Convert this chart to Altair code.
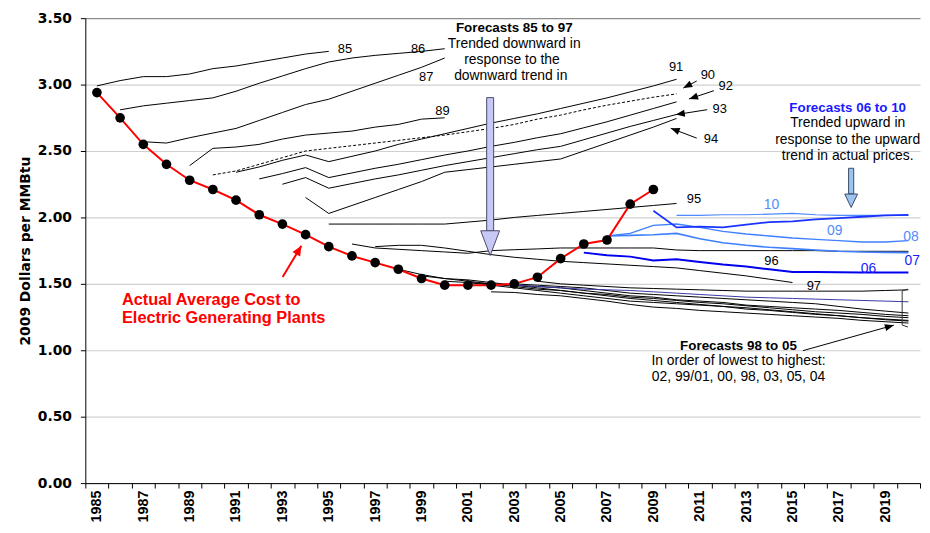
import math
import altair as alt
import pandas as pd

# ---------------- data ----------------
actual_start = 1985
actual = [2.94, 2.75, 2.55, 2.40, 2.28, 2.21, 2.13, 2.02, 1.95, 1.87, 1.78, 1.71, 1.66,
          1.61, 1.54, 1.49, 1.49, 1.49, 1.50, 1.55, 1.69, 1.80, 1.83, 2.10, 2.21]

f85 = [2.99, 3.03, 3.06, 3.06, 3.08, 3.12, 3.14, 3.17, 3.20, 3.23, 3.25]
f86 = [2.81, 2.84, 2.86, 2.88, 2.90, 2.95, 3.01, 3.065, 3.12, 3.17, 3.20, 3.22, 3.235, 3.25, 3.27]
f87 = [2.57, 2.56, 2.60, 2.635, 2.67, 2.73, 2.79, 2.85, 2.89, 2.95, 3.01, 3.07, 3.13, 3.20]
f89 = [2.39, 2.52, 2.53, 2.55, 2.59, 2.62, 2.635, 2.65, 2.68, 2.70, 2.74, 2.75]
f90 = [2.32, 2.35, 2.40, 2.45, 2.50, 2.52, 2.54, 2.56, 2.58, 2.60, 2.62, 2.645, 2.67,
       2.70, 2.74, 2.77, 2.81, 2.845, 2.875, 2.905, 2.93]
f91 = [2.34, 2.38, 2.43, 2.47, 2.42, 2.46, 2.50, 2.55, 2.59, 2.63, 2.67, 2.71, 2.745,
       2.78, 2.82, 2.86, 2.90, 2.945, 2.99, 3.04]
f92 = [2.29, 2.33, 2.375, 2.30, 2.335, 2.37, 2.40, 2.435, 2.47, 2.50, 2.535, 2.565,
       2.60, 2.63, 2.675, 2.72, 2.77, 2.82, 2.87]
f93 = [2.25, 2.30, 2.22, 2.255, 2.29, 2.32, 2.355, 2.39, 2.42, 2.45, 2.48, 2.51, 2.535,
       2.585, 2.635, 2.685, 2.73, 2.775]
f94 = [2.15, 2.03, 2.09, 2.15, 2.21, 2.27, 2.34, 2.36, 2.38, 2.40, 2.42, 2.44, 2.50,
       2.56, 2.62, 2.68, 2.745]
f95 = [1.95, 1.95, 1.95, 1.95, 1.95, 1.95, 1.965, 1.98, 2.00, 2.015, 2.03, 2.045, 2.06,
       2.075, 2.09, 2.105]
f96 = [1.80, 1.77, 1.76, 1.75, 1.74, 1.73, 1.75, 1.757, 1.763, 1.77, 1.77, 1.77, 1.77,
       1.77, 1.755, 1.75, 1.75, 1.75, 1.75, 1.75, 1.75, 1.745, 1.745, 1.745, 1.745]
f97 = [1.78, 1.79, 1.79, 1.77, 1.745, 1.72, 1.70, 1.685, 1.67, 1.66, 1.65, 1.64, 1.63,
       1.62, 1.60, 1.58, 1.56, 1.535, 1.51]
f98 = [1.61, 1.57, 1.54, 1.52, 1.50, 1.49, 1.48, 1.47, 1.45, 1.43, 1.41, 1.40, 1.38,
       1.37, 1.36, 1.34, 1.33, 1.32, 1.31, 1.30, 1.285, 1.27, 1.26]
f99 = [1.56, 1.54, 1.53, 1.51, 1.49, 1.47, 1.45, 1.43, 1.41, 1.39, 1.375, 1.36, 1.345,
       1.33, 1.31, 1.30, 1.285, 1.27, 1.26, 1.245, 1.235, 1.225]
f00 = [1.52, 1.51, 1.50, 1.48, 1.46, 1.45, 1.43, 1.42, 1.40, 1.39, 1.375, 1.36, 1.35,
       1.335, 1.32, 1.305, 1.29, 1.28, 1.27, 1.255, 1.245]
f01 = [1.51, 1.49, 1.47, 1.45, 1.43, 1.41, 1.39, 1.37, 1.36, 1.35, 1.34, 1.33, 1.32,
       1.305, 1.29, 1.275, 1.26, 1.245, 1.23, 1.22]
f02 = [1.44, 1.435, 1.42, 1.41, 1.39, 1.37, 1.345, 1.325, 1.315, 1.30, 1.29, 1.28, 1.27,
       1.26, 1.25, 1.24, 1.225, 1.215, 1.205]
f03 = [1.50, 1.49, 1.48, 1.47, 1.45, 1.43, 1.42, 1.41, 1.40, 1.39, 1.38, 1.37, 1.36,
       1.35, 1.33, 1.31, 1.295, 1.28]
f04 = [1.52, 1.50, 1.49, 1.48, 1.47, 1.465, 1.46, 1.455, 1.45, 1.445, 1.445, 1.445,
       1.445, 1.445, 1.445, 1.45, 1.455]
f05 = [1.49, 1.48, 1.47, 1.46, 1.455, 1.45, 1.44, 1.43, 1.42, 1.41, 1.40, 1.395, 1.39,
       1.385, 1.38, 1.375, 1.37, 1.365]
f06 = [1.735, 1.715, 1.705, 1.675, 1.685, 1.665, 1.645, 1.63, 1.61, 1.59, 1.59, 1.588,
       1.585, 1.585, 1.585]
f07 = [2.05, 1.925, 1.93, 1.925, 1.945, 1.965, 1.97, 1.985, 1.995, 2.005, 2.015, 2.02]
f08 = [1.86, 1.865, 1.87, 1.88, 1.84, 1.81, 1.79, 1.775, 1.765, 1.755, 1.745, 1.74,
       1.737, 1.735]
f09 = [1.86, 1.88, 1.94, 1.95, 1.925, 1.895, 1.875, 1.86, 1.845, 1.835, 1.825, 1.815,
       1.815, 1.825]
f10 = [2.015, 2.015, 2.02, 2.02, 2.025, 2.03, 2.02, 2.015, 2.015, 2.015, 2.015]

# forecast name -> (first year, values)
black_forecasts = {"85": (1985, f85), "86": (1986, f86), "87": (1987, f87), "89": (1989, f89),
                   "91": (1991, f91), "92": (1992, f92), "93": (1993, f93), "94": (1994, f94),
                   "95": (1995, f95), "96": (1996, f96), "97": (1997, f97),
                   "98": (1998, f98), "99": (1999, f99), "00": (2000, f00), "01": (2001, f01),
                   "02": (2002, f02), "03": (2003, f03), "04": (2004, f04)}
dashed_forecasts = {"90": (1990, f90)}
blue_forecasts = {"05": (2003, f05), "10": (2010, f10), "09": (2007, f09), "08": (2007, f08),
                  "07": (2009, f07), "06": (2006, f06)}
blue_colors = ["#3838a8", "#4d88ff", "#3f7fff", "#3f7fff", "#1a33ff", "#0000ee"]
blue_widths = [1.0, 2.0, 2.0, 2.0, 2.2, 2.6]

# text annotations (data coordinates: year, $/MMBtu)
num_labels = ["85", "86", "87", "89", "91", "90", "92", "93", "94", "95", "96", "97"]
num_x = [1995.7, 1998.85, 1999.2, 1999.9, 2009.98, 2011.35, 2012.12, 2011.86, 2011.48,
         2010.75, 2014.09, 2015.92]
num_y = [3.27, 3.27, 3.057, 2.80, 3.13, 3.07, 2.99, 2.813, 2.592, 2.141, 1.669, 1.484]

blue_labels = ["10", "09", "08", "07", "06"]
blue_lab_x = [2014.09, 2016.82, 2020.11, 2020.16, 2018.28]
blue_lab_y = [2.09, 1.898, 1.853, 1.669, 1.61]
blue_lab_col = ["#4f8cff", "#4f8cff", "#4f8cff", "#1a1aff", "#1a1aff"]

head_texts = ["Forecasts  85  to  97", "Forecasts  06  to  10", "Forecasts  98  to  05"]
head_x = [2003.0, 2017.38, 2012.67]
head_y = [3.426, 2.821, 1.034]
head_col = ["black", "#1a1aff", "black"]

body_texts = ["Trended downward in", "response to the", "downward trend in",
              "Trended upward in", "response to the upward", "trend in actual prices.",
              "In order of lowest to highest:", "02, 99/01, 00, 98, 03, 05, 04"]
body_x = [2003.0, 2002.9, 2002.85, 2017.38, 2017.38, 2017.38, 2012.67, 2012.67]
body_y = [3.308, 3.183, 3.064, 2.71, 2.584, 2.459, 0.916, 0.798]

red_texts = ["Actual Average Cost to", "Electric Generating Plants"]
red_x = [1986.08, 1986.08]
red_y = [1.381, 1.24]

# black pointer arrows: tail -> tip
arrow_x0 = [2010.87, 2011.61, 2011.32, 2010.87, 2015.45]
arrow_y0 = [3.027, 2.954, 2.811, 2.597, 0.997]
arrow_x1 = [2010.29, 2010.54, 2009.97, 2009.75, 2019.37]
arrow_y1 = [2.974, 2.892, 2.774, 2.671, 1.189]

red_arrow = [1993.01, 1.551, 1993.82, 1.787]

# big arrows: shaft (x0,x1,y0,y1) and tip
lav_shaft = [2001.81, 2002.11, 1.898, 2.902]
lav_tip = [2001.96, 1.713]
blu_shaft = [2017.42, 2017.64, 2.178, 2.37]
blu_tip = [2017.53, 2.075]

bracket_x = [2019.98, 2019.73, 2019.73, 2019.98]
bracket_y = [1.46, 1.447, 1.19, 1.175]

# ---------------- chart ----------------
W, H = 842, 469
PXX = W / 36.0
PXY = H / 3.5
FONT = "Liberation Sans"
AXFONT = "DejaVu Sans"


def to_df(d):
    rows = []
    for name, (start, vals) in d.items():
        for i, v in enumerate(vals):
            rows.append({"year": start + i, "value": v, "series": name})
    return pd.DataFrame(rows)


XS = alt.Scale(domain=[1984.5, 2020.5], nice=False, zero=False)
YS = alt.Scale(domain=[0, 3.5], nice=False, zero=False)

# ticks on year boundaries; labels (odd years) shifted half a year to the band centre
xvals = [1984.5 + i for i in range(37)]
XAXIS = alt.Axis(values=xvals, title=None, grid=False, labelAngle=270, labelAlign="right",
                 labelBaseline="middle", labelPadding=2, labelOffset=PXX / 2,
                 labelFont=FONT, labelFontWeight="bold", labelFontSize=14.5,
                 labelColor="black", tickColor="black", tickSize=5, domainColor="black",
                 labelOverlap=False, labelFlush=False, labelBound=False,
                 labelExpr="((datum.value + 0.5) % 2 === 1 && datum.value < 2020) ? "
                           "'' + (datum.value + 0.5) : ''")
YAXIS = alt.Axis(values=[0, 0.5, 1.0, 1.5, 2.0, 2.5, 3.0, 3.5], format=".2f",
                 title="2009 Dollars  per MMBtu", titleFont=AXFONT, titleFontWeight="bold",
                 titleFontSize=14, titleColor="black", titleAngle=270, titleX=-53,
                 titleY=H / 2, titleAlign="center", titleBaseline="bottom",
                 labelFont=AXFONT, labelFontWeight="bold", labelFontSize=14,
                 labelColor="black", labelPadding=9, tickSize=5, tickColor="black",
                 domainColor="black", grid=True, gridWidth=1.2,
                 gridColor={"condition": {"test": "datum.value > 3.49", "value": "#8c8c8c"},
                            "value": "#d0d0d0"})


def X(f="year"):
    return alt.X(f"{f}:Q", scale=XS, axis=XAXIS)


def Y(f="value"):
    return alt.Y(f"{f}:Q", scale=YS, axis=YAXIS)


black_df = to_df(black_forecasts)
lines_black = alt.Chart(black_df).mark_line(color="black", strokeWidth=1).encode(
    x=X(), y=Y(), detail="series:N")

lines_dash = alt.Chart(to_df(dashed_forecasts)).mark_line(
    color="black", strokeWidth=1, strokeDash=[3, 2]).encode(x=X(), y=Y(), detail="series:N")

blue_df = to_df(blue_forecasts)
blue_names = list(blue_forecasts.keys())
lines_blue = alt.Chart(blue_df).mark_line().encode(
    x=X(), y=Y(), detail="series:N",
    color=alt.Color("series:N", scale=alt.Scale(domain=blue_names, range=blue_colors),
                    legend=None),
    strokeWidth=alt.StrokeWidth("series:N",
                                scale=alt.Scale(domain=blue_names, range=blue_widths),
                                legend=None),
    order=alt.Order("year:Q"))

act_df = pd.DataFrame({"year": [actual_start + i for i in range(len(actual))], "value": actual})
act_line = alt.Chart(act_df).mark_line(color="#ff0000", strokeWidth=2).encode(x=X(), y=Y())
act_pts = alt.Chart(act_df).mark_point(filled=True, color="black", size=95, opacity=1).encode(
    x=X(), y=Y())

# bracket
br_df = pd.DataFrame({"year": bracket_x, "value": bracket_y, "i": range(4)})
bracket = alt.Chart(br_df).mark_line(color="#333333", strokeWidth=1).encode(
    x=X(), y=Y(), order="i:Q")

# pointer arrows
ar_df = pd.DataFrame({"x0": arrow_x0, "y0": arrow_y0, "x1": arrow_x1, "y1": arrow_y1})
ar_df["ang"] = [math.degrees(math.atan2((b - a) * PXX, (d - c) * PXY)) % 360
                for a, b, c, d in zip(arrow_x0, arrow_x1, arrow_y0, arrow_y1)]
arrow_lines = alt.Chart(ar_df).mark_rule(color="black", strokeWidth=1).encode(
    x=X("x0"), y=Y("y0"), x2="x1:Q", y2="y1:Q")
arrow_heads = alt.Chart(ar_df).mark_point(
    shape="M0,0L-0.4,1L0.4,1Z", filled=True, color="black", size=324, opacity=1).encode(
    x=X("x1"), y=Y("y1"), angle=alt.Angle("ang:Q", scale=None))

ra = red_arrow
red_df = pd.DataFrame({"x0": [ra[0]], "y0": [ra[1]], "x1": [ra[2]], "y1": [ra[3]],
                       "ang": [math.degrees(math.atan2((ra[2] - ra[0]) * PXX,
                                                       (ra[3] - ra[1]) * PXY)) % 360]})
red_line = alt.Chart(red_df).mark_rule(color="#ff0000", strokeWidth=2).encode(
    x=X("x0"), y=Y("y0"), x2="x1:Q", y2="y1:Q")
red_head = alt.Chart(red_df).mark_point(
    shape="M0,0L-0.45,1L0.45,1Z", filled=True, color="#ff0000", size=400, opacity=1).encode(
    x=X("x1"), y=Y("y1"), angle=alt.Angle("ang:Q", scale=None))

# big arrows
lav_df = pd.DataFrame({"x0": [lav_shaft[0]], "x1": [lav_shaft[1]], "y0": [lav_shaft[2]],
                       "y1": [lav_shaft[3]], "tx": [lav_tip[0]], "ty": [lav_tip[1]]})
lav_rect = alt.Chart(lav_df).mark_rect(fill="#c8c8f6", stroke="#4a4a66", strokeWidth=1).encode(
    x=X("x0"), x2="x1:Q", y=Y("y0"), y2="y1:Q")
lav_head = alt.Chart(lav_df).mark_point(
    shape="M0,0L-0.38,1L0.38,1Z", filled=True, fill="#c8c8f6", stroke="#4a4a66",
    strokeWidth=1, size=2500, opacity=1, angle=180).encode(x=X("tx"), y=Y("ty"))

blu_df = pd.DataFrame({"x0": [blu_shaft[0]], "x1": [blu_shaft[1]], "y0": [blu_shaft[2]],
                       "y1": [blu_shaft[3]], "tx": [blu_tip[0]], "ty": [blu_tip[1]]})
blu_rect = alt.Chart(blu_df).mark_rect(fill="#9cc4ee", stroke="#3a4a66", strokeWidth=1).encode(
    x=X("x0"), x2="x1:Q", y=Y("y0"), y2="y1:Q")
blu_head = alt.Chart(blu_df).mark_point(
    shape="M0,0L-0.48,1L0.48,1Z", filled=True, fill="#9cc4ee", stroke="#3a4a66",
    strokeWidth=1, size=730, opacity=1, angle=180).encode(x=X("tx"), y=Y("ty"))

# texts
num_df = pd.DataFrame({"x": num_x, "y": num_y, "t": num_labels})
num_text = alt.Chart(num_df).mark_text(font=FONT, fontSize=13, color="black").encode(
    x=X("x"), y=Y("y"), text="t:N")

bl_df = pd.DataFrame({"x": blue_lab_x, "y": blue_lab_y, "t": blue_labels, "c": blue_lab_col})
bl_text = alt.Chart(bl_df).mark_text(font=FONT, fontSize=14).encode(
    x=X("x"), y=Y("y"), text="t:N", color=alt.Color("c:N", scale=None))

hd_df = pd.DataFrame({"x": head_x, "y": head_y, "t": head_texts, "c": head_col})
hd_text = alt.Chart(hd_df).mark_text(font=FONT, fontSize=13.5, fontWeight="bold").encode(
    x=X("x"), y=Y("y"), text="t:N", color=alt.Color("c:N", scale=None))

bd_df = pd.DataFrame({"x": body_x, "y": body_y, "t": body_texts})
bd_text = alt.Chart(bd_df).mark_text(font=FONT, fontSize=14, color="black").encode(
    x=X("x"), y=Y("y"), text="t:N")

rd_df = pd.DataFrame({"x": red_x, "y": red_y, "t": red_texts})
rd_text = alt.Chart(rd_df).mark_text(font=FONT, fontSize=16.5, fontWeight="bold",
                                     color="#ff0000", align="left").encode(
    x=X("x"), y=Y("y"), text="t:N")

chart = alt.layer(
    lines_black, lines_dash, lines_blue, bracket,
    lav_rect, lav_head, blu_rect, blu_head,
    arrow_lines, arrow_heads,
    act_line, act_pts, red_line, red_head,
    num_text, bl_text, hd_text, bd_text, rd_text,
).properties(
    width=W, height=H,
    autosize=alt.AutoSizeParams(type="none"),
    padding={"left": 78, "top": 8, "right": 2, "bottom": 40},
).configure_view(stroke=None)

chart.save("out.html", embed_options={"renderer": "svg", "actions": False})
